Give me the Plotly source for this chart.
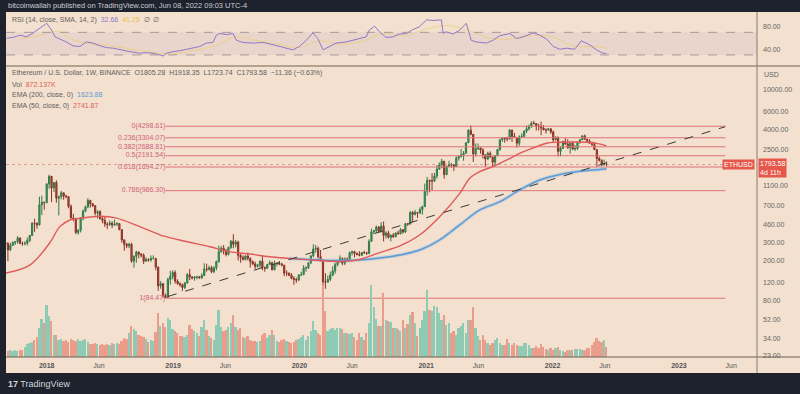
import numpy as np
import pandas as pd
import plotly.graph_objects as go

# ---------------- data ----------------
week_open = [
    300, 295, 255, 283, 301, 308, 334, 296, 295, 297, 316, 355, 470, 465, 452, 715, 755,
    750, 1150, 1370, 1050, 1190, 830, 860, 940, 870, 860, 690, 530, 520, 380, 400, 530, 620, 680, 790, 730,
    700, 590, 610, 520, 500, 460, 455, 470, 450, 460, 465, 405, 320, 290, 280, 290, 197, 220, 243, 232, 226,
    197, 205, 202, 210, 210, 172, 112, 118, 90, 86, 130, 139,
    152, 125, 118, 115, 108, 120, 145, 137, 134, 137, 138, 135, 142, 165, 163, 170, 155, 170, 195, 245, 265,
    250, 230, 270, 310, 290, 305, 225, 215, 205, 222, 210, 195, 185, 175, 180, 197, 170, 167, 183, 190, 162,
    185, 188, 185, 180, 150, 150, 143, 133, 130, 128,
    144, 145, 168, 170, 190, 223, 260, 265, 218, 200, 123, 122, 130, 143, 158, 182, 197, 210, 188, 207, 205,
    240, 245, 235, 230, 226, 240, 238, 235, 310, 385, 395, 430, 390, 440, 355, 375, 340, 357, 345, 375, 368,
    405, 385, 465, 460, 600, 575, 600, 590, 640, 685,
    975, 1250, 1230, 1230, 1380, 1610, 1780, 1935, 1420, 1720, 1790, 1780, 1710, 2080, 2140, 2240, 2320, 2950,
    3920, 3580, 2280, 2580, 2620, 2500, 2240, 2030, 2320, 2130, 1890, 2190, 2530, 3160, 3300, 3240, 3220, 3940,
    3400, 3330, 2920, 3380, 3410, 3850, 4060, 4290, 4620, 4570, 4310, 4300, 4120, 3950, 3940, 4050,
    3770, 3150, 3330, 2420, 2590, 3020, 2860, 2630, 2920, 2550, 2580, 2950, 3150, 3450, 3200, 3050, 2920, 2830,
    2520, 2060, 1970, 1800, 1805.28,
]
week_high = [
    345, 305, 300, 310, 312, 350, 340, 308, 310, 338, 358, 480, 520, 480, 860, 880, 770,
    1170, 1420, 1380, 1200, 1250, 880, 980, 945, 900, 870, 720, 580, 530, 410, 540, 640, 700, 830, 800, 740,
    710, 630, 630, 540, 550, 480, 500, 490, 510, 480, 470, 410, 325, 300, 300, 300, 225, 250, 245, 235, 235,
    215, 210, 225, 225, 212, 175, 125, 120, 94, 135, 158, 160,
    160, 130, 122, 118, 122, 150, 165, 140, 140, 141, 140, 150, 188, 186, 178, 177, 175, 200, 280, 280, 285,
    260, 275, 320, 365, 320, 315, 235, 225, 225, 240, 215, 200, 195, 185, 200, 225, 175, 185, 200, 195, 200,
    190, 198, 190, 180, 160, 152, 150, 140, 135, 145,
    155, 180, 175, 190, 225, 290, 285, 275, 255, 205, 150, 142, 155, 175, 190, 200, 225, 215, 215, 215, 245,
    250, 250, 240, 248, 235, 250, 245, 325, 415, 400, 445, 440, 480, 488, 390, 395, 360, 375, 380, 395, 420,
    410, 470, 470, 620, 620, 635, 605, 675, 700, 1160,
    1350, 1270, 1470, 1480, 1770, 1880, 2040, 1940, 1740, 1950, 1850, 1800, 2150, 2190, 2550, 2440, 2950, 4000,
    4380, 3600, 2900, 2900, 2650, 2600, 2260, 2400, 2420, 2130, 2230, 2550, 3170, 3330, 3340, 3380, 4030, 3970,
    3680, 3350, 3490, 3650, 3900, 4380, 4460, 4800, 4870, 4600, 4550, 4780, 4420, 4100, 4130, 4100,
    3900, 3420, 3400, 2720, 3100, 3280, 3200, 2950, 3050, 2800, 3050, 3200, 3480, 3550, 3200, 3190, 3030, 3000,
    2520, 2150, 2020, 2010, 1918.35,
]
week_low = [
    275, 197, 248, 278, 285, 295, 290, 280, 283, 282, 305, 350, 385, 415, 445, 565, 640,
    740, 1030, 760, 960, 750, 560, 810, 800, 830, 660, 520, 490, 365, 360, 380, 500, 600, 660, 670, 680,
    560, 520, 510, 470, 430, 410, 440, 420, 440, 440, 400, 300, 250, 265, 265, 190, 170, 190, 210, 215, 185,
    195, 195, 195, 205, 160, 100, 105, 85, 84.47, 85, 115, 130,
    118, 115, 110, 100, 104, 118, 128, 130, 126, 130, 132, 131, 140, 155, 160, 150, 150, 160, 190, 238, 230,
    220, 225, 260, 265, 270, 200, 190, 200, 200, 200, 170, 180, 165, 170, 170, 160, 155, 165, 180, 160, 160,
    175, 180, 175, 140, 140, 140, 130, 115, 120, 125,
    140, 143, 155, 165, 185, 215, 240, 210, 195, 90, 105, 120, 125, 140, 148, 175, 190, 180, 180, 195, 200,
    225, 215, 225, 220, 222, 235, 228, 232, 310, 365, 375, 375, 380, 310, 330, 330, 310, 335, 340, 365, 365,
    370, 375, 440, 455, 480, 560, 530, 585, 570, 680,
    880, 950, 1000, 1200, 1300, 1600, 1650, 1300, 1420, 1700, 1670, 1550, 1700, 1960, 2130, 1950, 2300, 2950,
    3500, 1900, 2150, 2500, 2300, 2050, 1700, 2000, 2100, 1720, 1720, 2180, 2450, 3000, 2950, 3050, 3160, 3000,
    3300, 2650, 2750, 3300, 3400, 3680, 3900, 4150, 4500, 3900, 3900, 3500, 3950, 3640, 3900, 3600,
    3000, 3100, 2160, 2160, 2580, 2820, 2570, 2300, 2500, 2450, 2500, 2900, 3150, 3150, 2950, 2900, 2750, 2500,
    1700, 1920, 1730, 1750, 1723.74,
]
week_close = [
    295, 255, 283, 301, 308, 334, 296, 295, 297, 316, 355, 470, 465, 452, 715, 755, 750,
    1150, 1370, 1050, 1190, 830, 860, 940, 870, 860, 690, 530, 520, 380, 400, 530, 620, 680, 790, 730, 700,
    590, 610, 520, 500, 460, 455, 470, 450, 460, 465, 405, 320, 290, 280, 290, 197, 220, 243, 232, 226, 197,
    205, 202, 210, 210, 172, 112, 118, 90, 86, 130, 139, 152,
    125, 118, 115, 108, 120, 145, 137, 134, 137, 138, 135, 142, 165, 163, 170, 155, 170, 195, 245, 265, 250,
    230, 270, 310, 290, 305, 225, 215, 205, 222, 210, 195, 185, 175, 180, 197, 170, 167, 183, 190, 162, 185,
    188, 185, 180, 150, 150, 143, 133, 130, 128, 144,
    145, 168, 170, 190, 223, 260, 265, 218, 200, 123, 122, 130, 143, 158, 182, 197, 210, 188, 207, 205, 240,
    245, 235, 230, 226, 240, 238, 235, 310, 385, 395, 430, 390, 440, 355, 375, 340, 357, 345, 375, 368, 405,
    385, 465, 460, 600, 575, 600, 590, 640, 685, 975,
    1250, 1230, 1230, 1380, 1610, 1780, 1935, 1420, 1720, 1790, 1780, 1710, 2080, 2140, 2240, 2320, 2950, 3920,
    3580, 2280, 2580, 2620, 2500, 2240, 2030, 2320, 2130, 1890, 2190, 2530, 3160, 3300, 3240, 3220, 3940, 3400,
    3330, 2920, 3380, 3410, 3850, 4060, 4290, 4620, 4570, 4310, 4300, 4120, 3950, 3940, 4050, 3770,
    3150, 3330, 2420, 2590, 3020, 2860, 2630, 2920, 2550, 2580, 2950, 3150, 3450, 3200, 3050, 2920, 2830, 2520,
    2060, 1970, 1800, 1805.28, 1793.58,
]
# weekly volume, thousands of ETH
volume_k = [
    520, 540, 600, 510, 620, 530, 590, 615, 870, 1130, 1220, 1310, 1480, 1750, 2530, 3310, 2960,
    4530, 3580, 3140, 1920, 1920, 1480, 1570, 1400, 1480, 1310, 1570, 1480, 1400, 1570, 1400, 1480, 1570, 1310,
    1130, 1130, 1220, 1130, 1050, 1130, 1050, 1130, 1050, 1220, 1130, 1220, 1130, 1400, 1660, 1570, 2090, 2700,
    2440, 2270, 1920, 1830, 1740, 1570, 1310, 1480, 1400, 2180, 3840, 2700, 2970, 2620, 3400, 3230, 2440,
    2270, 2090, 1830, 1830, 1740, 1920, 2790, 2440, 2270, 2090, 1830, 2620, 3230, 2350, 1830, 1660, 1480, 2790,
    4100, 2620, 2270, 2350, 2620, 2970, 3660, 2620, 2350, 2530, 1740, 1660, 1830, 1480, 1400, 1400, 1310, 1400,
    1920, 2090, 1660, 1920, 2350, 1920, 1400, 1310, 1480, 1570, 1400, 1310, 1220, 1310, 1480, 1570,
    1740, 1920, 1480, 1830, 2270, 3140, 2350, 2090, 1920, 6280, 4010, 2270, 2440, 2530, 2350, 2530, 2530, 2440,
    2090, 2090, 2010, 2090, 1740, 1480, 2090, 1740, 1480, 2090, 2970, 6280, 4360, 3310, 2700, 2700, 5580, 3230,
    3140, 3050, 2530, 2530, 2440, 2270, 3230, 2530, 2880, 3660, 3920, 2970, 1830, 2530, 3230, 4010,
    5840, 4100, 4010, 4450, 4360, 3840, 3230, 3660, 2790, 2970, 2090, 2270, 1920, 2530, 2700, 2970, 2090, 3230,
    3230, 4360, 2530, 1830, 1480, 1920, 1480, 1220, 1050, 1220, 1480, 1660, 1220, 1050, 1050, 1570, 1220, 1050,
    1220, 1050, 960, 960, 1220, 1220, 1050, 785, 785, 960, 785, 1130, 872, 698, 610, 785,
    610, 785, 872, 610, 523, 436, 610, 610, 610, 698, 698, 698, 610, 610, 785, 785, 1050, 1310, 1660, 1400,
    1310, 1480, 872.137,
]
last_change = -11.36
last_change_pct = -0.63

ema50_dates = ['2017-09-04', '2017-11-13', '2018-01-10', '2018-02-08', '2018-03-09', '2018-04-07',
               '2018-06-05', '2018-07-19', '2018-09-27', '2018-11-24', '2019-01-20', '2019-04-17',
               '2019-06-13', '2019-08-10', '2019-10-07', '2019-12-03', '2020-01-30', '2020-03-28',
               '2020-05-10', '2020-06-23', '2020-08-20', '2020-10-17', '2020-12-13', '2021-02-09',
               '2021-04-08', '2021-05-07', '2021-06-05', '2021-07-12', '2021-08-22', '2021-09-28',
               '2021-11-04', '2021-12-15', '2022-01-13', '2022-02-28', '2022-04-09', '2022-05-16',
               '2022-06-06']
ema50_vals = [150, 180, 300, 434, 505, 525, 550, 530, 434, 360, 320, 274, 245, 232, 218, 210, 203, 197,
              196, 205, 240, 279, 358, 545, 929, 1310, 1524, 1708, 1990, 2317, 2600, 2912, 2980, 3000,
              2980, 2870, 2741.87]

ema200_dates = ['2019-12-03', '2020-01-30', '2020-03-28', '2020-06-23', '2020-08-20', '2020-10-17',
                '2020-12-13', '2021-02-09', '2021-04-08', '2021-06-05', '2021-08-02', '2021-09-28',
                '2021-11-25', '2022-01-22', '2022-03-20', '2022-05-16', '2022-06-06']
ema200_vals = [210, 205, 200, 203, 212, 227, 254, 320, 451, 635, 767, 1003, 1260, 1430, 1540, 1600, 1623.88]

rsi_dates = ['2017-09-07', '2017-09-26', '2017-10-16', '2017-11-04', '2017-11-23', '2017-12-13',
             '2018-01-01', '2018-01-15', '2018-01-25', '2018-02-08', '2018-02-27', '2018-03-18',
             '2018-04-07', '2018-04-26', '2018-05-15', '2018-06-04', '2018-06-23', '2018-07-12',
             '2018-07-31', '2018-08-20', '2018-09-08', '2018-09-27', '2018-10-16', '2018-11-04',
             '2018-11-24', '2018-12-03', '2018-12-13', '2019-01-01', '2019-01-21', '2019-02-09',
             '2019-02-28', '2019-03-19', '2019-04-07', '2019-04-26', '2019-05-06', '2019-05-16',
             '2019-06-04', '2019-06-23', '2019-07-03', '2019-07-22', '2019-08-20', '2019-09-18',
             '2019-10-17', '2019-11-05', '2019-11-24', '2019-12-13', '2020-01-01', '2020-01-21',
             '2020-02-09', '2020-02-23', '2020-03-09', '2020-03-28', '2020-04-16', '2020-05-15',
             '2020-06-03', '2020-06-23', '2020-07-12', '2020-07-21', '2020-08-05', '2020-08-19',
             '2020-09-07', '2020-09-27', '2020-10-16', '2020-11-05', '2020-11-24', '2020-12-13',
             '2021-01-02', '2021-01-21', '2021-02-14', '2021-02-19', '2021-02-28', '2021-03-19',
             '2021-04-08', '2021-04-27', '2021-05-11', '2021-05-26', '2021-06-24', '2021-07-13',
             '2021-08-02', '2021-08-31', '2021-09-19', '2021-10-08', '2021-11-06', '2021-11-25',
             '2021-12-15', '2022-01-03', '2022-01-22', '2022-02-11', '2022-03-06', '2022-03-25',
             '2022-04-18', '2022-05-08', '2022-05-27', '2022-06-06']
rsi_vals = [59.6, 61, 65, 62, 69, 77, 86, 74, 62, 58, 53, 46, 45, 53, 51, 46, 43, 42, 39, 37, 35, 33, 34, 33,
            30, 28, 33, 36, 37.5, 40, 43, 45, 51, 52, 65, 68, 66, 68, 56, 52, 51, 52, 48, 45, 42, 39, 45, 56,
            69, 59, 39, 45, 51, 53, 56, 58, 62, 74, 81, 71, 61, 62, 67, 68, 75, 80, 92, 91, 92, 68, 71, 67, 74,
            86, 56, 53, 51, 56, 64, 68, 59, 62, 69, 65, 58, 45, 40, 42, 40, 55, 48, 39, 33, 32.66]

rsi_sma_dates = ['2017-10-15', '2017-12-15', '2018-02-01', '2018-03-15', '2018-05-01', '2018-07-01',
                 '2018-09-01', '2018-11-01', '2019-01-01', '2019-03-01', '2019-05-01', '2019-07-01',
                 '2019-09-01', '2019-11-01', '2020-01-01', '2020-03-01', '2020-05-01', '2020-07-01',
                 '2020-09-01', '2020-11-01', '2021-01-01', '2021-03-01', '2021-05-01', '2021-07-01',
                 '2021-09-01', '2021-11-01', '2022-01-01', '2022-03-01', '2022-05-01', '2022-06-06']
rsi_sma_vals = [58, 65, 72, 58, 50, 47, 40, 35, 32, 38, 46, 62, 55, 49, 43, 55, 49, 54, 68, 64, 76, 82,
                74, 60, 58, 64, 62, 46, 45, 42]

fib_levels = ['0', '0.236', '0.382', '0.5', '0.618', '0.786', '1']
fib_prices = [4298.61, 3304.07, 2688.81, 2191.54, 1694.27, 986.30, 84.47]
fib_span = ['2018-12-10', '2023-05-15']

trend_dates = ['2018-12-17', '2023-05-15']
trend_prices = [88, 4254]

price_ticks = [10000, 6000, 4000, 2500, 1100, 700, 460, 300, 200, 120, 80, 52, 34, 23]
rsi_ticks = [80, 40]
date_ticks = ['2018-01-01', '2018-06-01', '2019-01-01', '2019-06-01', '2020-01-01', '2020-06-01',
              '2021-01-01', '2021-06-01', '2022-01-01', '2022-06-01', '2023-01-01', '2023-06-01']
date_labels = ['<b>2018</b>', 'Jun', '<b>2019</b>', 'Jun', '<b>2020</b>', 'Jun', '<b>2021</b>', 'Jun',
               '<b>2022</b>', 'Jun', '<b>2023</b>', 'Jun']

# ---------------- styling ----------------
BG = '#f3e0ce'
DARK = '#1e222d'
FONT = 'Liberation Sans, Arial, sans-serif'
TXT = '#5f5f5f'
UP_LINE, UP_FILL = '#2f7a48', '#4f9e63'
DN_LINE, DN_FILL = '#8a3226', '#b04a3a'
UP_VOL, DN_VOL = '#8fcab4', '#eb9d8c'
FIB = '#de7278'
FIB_TXT = '#d0607a'
EMA_RED = '#e05a5a'
EMA_BLUE = '#5b9bd5'

weeks = pd.date_range('2017-09-04', periods=len(week_close), freq='7D')
t2018 = pd.Timestamp('2018-01-01')
x_left = t2018 - pd.Timedelta(days=(46.7 - 6) / 126.46 * 365.25)
x_right = t2018 + pd.Timedelta(days=(757 - 46.7) / 126.46 * 365.25)
last_close = week_close[-1]

fig = go.Figure()

# volume
vol_colors = [UP_VOL if c >= o else DN_VOL for o, c in zip(week_open, week_close)]
fig.add_trace(go.Bar(x=weeks, y=volume_k, marker=dict(color=vol_colors, line=dict(width=0)),
                     width=7 * 86400000 * 0.72, yaxis='y3', hoverinfo='skip'))

# fib lines and labels
for lvl, p in zip(fib_levels, fib_prices):
    fig.add_trace(go.Scatter(x=fib_span, y=[p, p], mode='lines', line=dict(color=FIB, width=1),
                             hoverinfo='skip'))
fig.add_trace(go.Scatter(x=[fib_span[0]] * len(fib_prices), y=fib_prices, mode='text',
                         text=[f'{l}({p:.2f})' for l, p in zip(fib_levels, fib_prices)],
                         textposition='middle left',
                         textfont=dict(size=7, color=FIB_TXT, family=FONT), hoverinfo='skip'))

# last price line
fig.add_trace(go.Scatter(x=[x_left, x_right], y=[last_close, last_close], mode='lines',
                         line=dict(color='rgba(200,110,100,0.55)', width=1, dash='dot'), hoverinfo='skip'))

# EMAs
fig.add_trace(go.Scatter(x=ema200_dates, y=ema200_vals, mode='lines', line_shape='spline',
                         line=dict(color='rgba(140,185,230,0.4)', width=3.5), hoverinfo='skip'))
fig.add_trace(go.Scatter(x=ema200_dates, y=ema200_vals, mode='lines', line_shape='spline',
                         line=dict(color=EMA_BLUE, width=1.5), hoverinfo='skip'))
fig.add_trace(go.Scatter(x=ema50_dates, y=ema50_vals, mode='lines', line_shape='spline',
                         line=dict(color=EMA_RED, width=1.4), hoverinfo='skip'))

# trend line
fig.add_trace(go.Scatter(x=trend_dates, y=trend_prices, mode='lines',
                         line=dict(color='#3a3a3a', width=1, dash='dash'), hoverinfo='skip'))

# candles
fig.add_trace(go.Candlestick(x=weeks, open=week_open, high=week_high, low=week_low, close=week_close,
                             increasing=dict(line=dict(color=UP_LINE, width=1), fillcolor=UP_FILL),
                             decreasing=dict(line=dict(color=DN_LINE, width=1), fillcolor=DN_FILL),
                             whiskerwidth=0, hoverinfo='skip'))

# RSI
fig.add_trace(go.Scatter(x=rsi_sma_dates, y=rsi_sma_vals, mode='lines', line_shape='spline', yaxis='y2',
                         line=dict(color='rgba(235,200,90,0.55)', width=1), hoverinfo='skip'))
fig.add_trace(go.Scatter(x=rsi_dates, y=rsi_vals, mode='lines', yaxis='y2',
                         line=dict(color='#8e78c8', width=1), hoverinfo='skip'))

H = 345.0
W = 751.0
def py(p):
    return (357 - p) / H
def px(p):
    return (p - 6) / W

shapes = [
    dict(type='rect', xref='paper', yref='paper', x0=px(-2), x1=px(802), y0=py(12), y1=py(-2),
         fillcolor=DARK, line=dict(width=0)),
    dict(type='rect', xref='paper', yref='paper', x0=px(-2), x1=px(802), y0=py(396), y1=py(373),
         fillcolor=DARK, line=dict(width=0)),
    dict(type='rect', xref='paper', yref='paper', x0=px(-2), x1=px(6), y0=py(396), y1=py(-2),
         fillcolor=DARK, line=dict(width=0)),
    dict(type='rect', xref='paper', yref='y2', x0=0, x1=1, y0=30, y1=70,
         fillcolor='rgba(126,87,194,0.08)', line=dict(width=0), layer='below'),
    dict(type='line', xref='paper', yref='y2', x0=0, x1=1, y0=70, y1=70,
         line=dict(color='#a8989e', width=1, dash='dash')),
    dict(type='line', xref='paper', yref='y2', x0=0, x1=1, y0=30, y1=30,
         line=dict(color='#a8989e', width=1, dash='dash')),
    dict(type='line', xref='paper', yref='paper', x0=0, x1=px(800), y0=py(66), y1=py(66),
         line=dict(color='#b3a292', width=2)),
    dict(type='line', xref='paper', yref='paper', x0=0, x1=px(800), y0=0, y1=0,
         line=dict(color='#6e6056', width=1)),
    dict(type='line', xref='paper', yref='paper', x0=1, x1=1, y0=py(373), y1=1,
         line=dict(color='#8a7b6e', width=1)),
]

def ann(x, y, text, size=7, color=TXT, xanchor='left', **kw):
    d = dict(xref='paper', yref='paper', x=x, y=y, text=text, showarrow=False, xanchor=xanchor,
             yanchor='middle', font=dict(size=size, color=color, family=FONT))
    d.update(kw)
    return d

annotations = [
    ann(px(6), py(5), 'bitcoinwallah published on TradingView.com, Jun 08, 2022 09:03 UTC-4',
        size=7.5, color='#c9ccd3'),
    ann(px(10), py(20), 'RSI (14, close, SMA, 14, 2)  <span style="color:#8e78c8">%.2f</span>  '
        '<span style="color:#e8c14a">41.25</span>  ∅  ∅' % rsi_vals[-1]),
    ann(px(10), py(73), 'Ethereum / U.S. Dollar, 1W, BINANCE  O%.2f  H%.2f  L%.2f  C%.2f  %s (%s%%)'
        % (week_open[-1], week_high[-1], week_low[-1], last_close,
           ('%.2f' % last_change).replace('-', '−'), ('%.2f' % last_change_pct).replace('-', '−'))),
    ann(px(10), py(84), 'Vol  <span style="color:#e0605a">%.3fK</span>' % volume_k[-1]),
    ann(px(10), py(95), 'EMA (200, close, 0)  <span style="color:#5b9bd5">%.2f</span>' % ema200_vals[-1]),
    ann(px(10), py(106), 'EMA (50, close, 0)  <span style="color:#e05a5a">%.2f</span>' % ema50_vals[-1]),
    ann(px(762), py(74), 'USD', color='#666666'),
    dict(xref='paper', yref='y', x=1, y=np.log10(last_close), text='ETHUSD', showarrow=False,
         xanchor='right', yanchor='middle', xshift=-2, bgcolor='#e4574a', borderpad=1,
         font=dict(size=7, color='white', family=FONT)),
    dict(xref='paper', yref='y', x=1, y=np.log10(last_close), text='%.2f<br>4d 11h' % last_close,
         showarrow=False, xanchor='left', yanchor='middle', yshift=-3, xshift=1, bgcolor='#e4574a',
         borderpad=1, align='left', font=dict(size=7, color='white', family=FONT)),
    ann(px(6), py(384), '<b>17</b> TradingView', size=9, color='#d1d4dc'),
]

fig.update_layout(
    width=800, height=394, margin=dict(l=6, r=43, t=12, b=37),
    paper_bgcolor=BG, plot_bgcolor=BG, showlegend=False, bargap=0,
    font=dict(family=FONT, size=7, color=TXT),
    xaxis=dict(type='date', range=[x_left, x_right], rangeslider=dict(visible=False), showgrid=False,
               zeroline=False, showline=False, tickvals=date_ticks, ticktext=date_labels, ticks='',
               tickfont=dict(size=7, color='#555555'), ticklabelstandoff=3, anchor='y'),
    yaxis=dict(type='log', domain=[0, py(67)], range=[1.344, 4.221], side='right', showgrid=False,
               zeroline=False, showline=False, tickvals=price_ticks,
               ticktext=['%.2f' % v for v in price_ticks], ticks='', ticklabelstandoff=5,
               tickfont=dict(size=7, color='#666666')),
    yaxis2=dict(domain=[py(65), 1], range=[12.2, 106], side='right', showgrid=False, zeroline=False,
                showline=False, tickvals=rsi_ticks, ticktext=['%.2f' % v for v in rsi_ticks], ticks='',
                ticklabelstandoff=5, tickfont=dict(size=7, color='#666666'), anchor='x'),
    yaxis3=dict(overlaying='y', range=[0, 25288], visible=False),
    shapes=shapes, annotations=annotations,
)

fig.write_html('out.html', config={'displayModeBar': False},
               post_script="document.body.style.margin='0px';document.body.style.background='#1e222d';")
